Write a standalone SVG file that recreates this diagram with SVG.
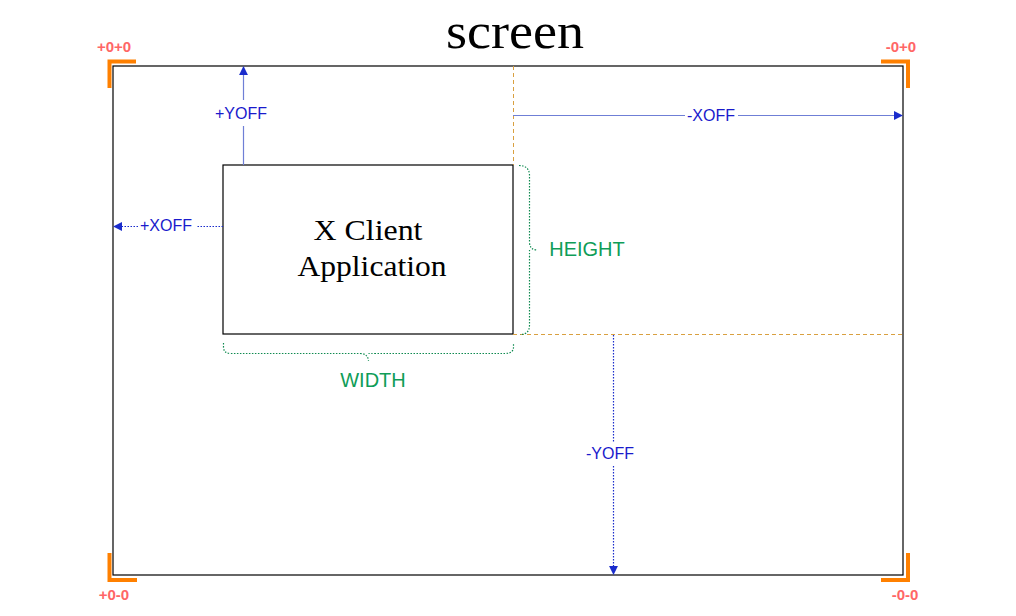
<svg xmlns="http://www.w3.org/2000/svg" width="1016" height="616" viewBox="0 0 1016 616">
<style>
.corner{fill:none;stroke:#ff8000;stroke-width:4}
.clab{font-family:"Liberation Sans",Arial,sans-serif;font-size:15px;font-weight:bold;fill:#ff6666;text-anchor:middle}
.blab{font-family:"Liberation Sans",Arial,sans-serif;font-size:16px;fill:#1a1acc;text-anchor:middle}
.glab{font-family:"Liberation Sans",Arial,sans-serif;font-size:20px;fill:#0f9d58;text-anchor:middle}
.serif{font-family:"Liberation Serif","DejaVu Serif",serif;fill:#000;text-anchor:middle}
.solid{fill:none;stroke:#6f7fd6;stroke-width:1.2}
.dotted{fill:none;stroke:#1a2ccc;stroke-width:1.2;stroke-dasharray:1.5 1.5}
.guide{fill:none;stroke:#d9a040;stroke-width:1;stroke-dasharray:4 3}
.brace{fill:none;stroke:#0f8a50;stroke-width:1.2;stroke-dasharray:1.5 1.5}
</style>
<defs>
<marker id="ah" viewBox="0 0 10 10" refX="9" refY="5" markerWidth="9" markerHeight="9" orient="auto" markerUnits="userSpaceOnUse">
<path d="M0,0 L10,5 L0,10 Z" fill="#1a2ccc"/>
</marker>
</defs>
<rect width="1016" height="616" fill="#fff"/>
<g id="screen">
<text class="serif" x="515" y="48" font-size="50" textLength="138" lengthAdjust="spacingAndGlyphs">screen</text>
<rect x="113" y="66" width="790" height="509" fill="none" stroke="#000" stroke-width="1.2"/>
</g>
<g id="corners">
<path class="corner" d="M109.5,88 V61.5 H136"/>
<path class="corner" d="M881,61.5 H908 V88"/>
<path class="corner" d="M109.5,553 V580 H137"/>
<path class="corner" d="M881,580 H908 V553"/>
<text class="clab" x="114" y="52">+0+0</text>
<text class="clab" x="901" y="52">-0+0</text>
<text class="clab" x="114" y="600">+0-0</text>
<text class="clab" x="905" y="600">-0-0</text>
</g>
<g id="client">
<rect x="223" y="165" width="290" height="169" fill="#fff" stroke="#000" stroke-width="1.2"/>
<text class="serif" x="368" y="240" font-size="29" textLength="109" lengthAdjust="spacingAndGlyphs">X Client</text>
<text class="serif" x="372" y="276" font-size="29" textLength="149" lengthAdjust="spacingAndGlyphs">Application</text>
</g>
<g id="connectors">
<path class="guide" d="M513.5,66 V165"/>
<path class="guide" d="M513,334.5 H903"/>
<path class="solid" d="M243.5,165 V126 M243.5,100 V67" marker-end="url(#ah)"/>
<path class="dotted" d="M223,226.5 H196 M138,226.5 H114" marker-end="url(#ah)"/>
<path class="solid" d="M513,115.5 H685 M738,115.5 H902" marker-end="url(#ah)"/>
<path class="dotted" d="M613.5,335 V442 M613.5,466 V574" marker-end="url(#ah)"/>
<path class="brace" d="M519,165.5 Q529,165.5 529.5,175 V242 Q529.5,250 537.5,250 M529.5,250 Q529.5,252 529.5,258 V325 Q529.5,334.5 520,334.5"/>
<path class="brace" d="M223.5,343 V347 Q223.5,353.5 231,353.5 H360 Q368,353.5 368.5,361 M368.5,353.5 Q369,353.5 376,353.5 H505 Q513.5,353.5 513.5,347 V343"/>
</g>
<g id="labels">
<text class="blab" x="241" y="119">+YOFF</text>
<text class="blab" x="166" y="231">+XOFF</text>
<text class="blab" x="711" y="121">-XOFF</text>
<text class="blab" x="610" y="459">-YOFF</text>
<text class="glab" x="587" y="256">HEIGHT</text>
<text class="glab" x="373" y="387">WIDTH</text>
</g>
</svg>
